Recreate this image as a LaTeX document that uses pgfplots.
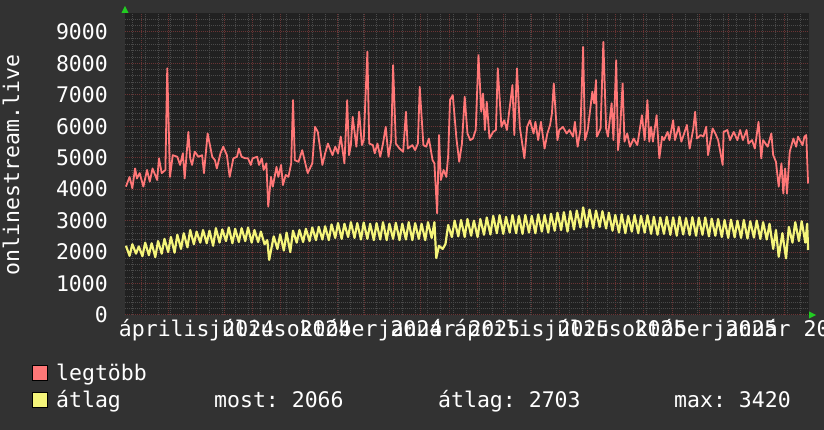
\documentclass[border=0pt]{standalone}
\usepackage{fontspec}
\setmainfont{DejaVu Sans Mono}
\usepackage{pgfplots}
\usepackage{pgfplotstable}
\pgfplotsset{compat=1.18}
\frenchspacing

\definecolor{outerbg}{HTML}{323232}
\definecolor{canvas}{HTML}{212121}
\definecolor{mgrid}{HTML}{6A3434}
\definecolor{sgrid}{HTML}{4A4A4A}
\definecolor{peak}{HTML}{FF7777}
\definecolor{avg}{HTML}{F5F57A}
\definecolor{arrowgreen}{HTML}{22CC22}

% day = days since 2024-01-01
\pgfplotstableread{
day legtobb
14 4080
18 4390
21 4030
24 4660
26 4340
29 4510
33 4080
37 4610
40 4240
43 4660
48 4290
50 4980
53 4510
57 4610
59 7840
62 4390
65 5080
70 5030
73 4770
76 5140
78 4340
82 5820
84 4980
86 4770
89 5190
93 5030
97 5080
99 4510
103 5770
108 5030
111 4920
113 4660
117 5140
120 5350
124 5080
127 4390
131 4980
135 5030
137 5290
140 5030
144 4980
147 4980
150 4770
152 4980
157 5030
159 4770
162 4980
164 4610
167 4820
169 3440
172 4390
174 4080
178 4710
180 4390
183 4770
185 4130
188 4450
191 4390
194 4820
196 6830
198 4920
202 4870
206 5240
209 4870
212 4510
217 4820
220 5980
223 5820
228 4770
231 5140
234 5450
239 5080
242 5350
245 5140
248 5670
252 4820
255 6830
257 5080
259 5400
261 6300
265 5350
268 6460
271 5400
273 5560
277 8370
279 5450
283 5400
285 5140
288 5450
291 5030
294 5450
297 5980
300 5030
303 5560
305 7940
308 5450
312 5290
316 5190
319 6460
321 5290
326 5400
329 5240
332 5450
334 7250
338 5400
341 5350
344 5610
348 4920
350 4820
353 3230
355 5720
357 4290
360 4610
363 4390
365 5080
367 6830
370 6990
374 5610
377 4870
380 5450
383 6940
386 5770
389 5560
392 5610
395 5880
398 8260
401 6460
403 7040
405 5880
407 6780
410 5610
414 5820
417 5880
419 7840
423 5980
426 6190
429 5880
435 7310
437 5720
440 7840
443 5980
448 4980
451 5980
454 6190
458 5770
460 6140
463 5560
466 6140
470 5290
473 5770
476 6040
478 6410
480 7360
484 5560
486 5880
490 5980
494 5770
497 5880
501 5670
503 6140
506 5350
509 5880
512 8520
514 5560
517 5880
522 7100
524 6730
526 7470
527 5670
531 5930
534 8680
537 5930
539 5670
543 6730
545 5560
548 8100
550 5240
552 5770
555 7360
557 5510
560 5770
563 5350
567 5610
571 5400
573 5770
576 6350
579 5560
582 6830
584 5510
586 5980
588 5510
592 6350
595 4980
598 5670
600 5560
604 5820
606 5560
610 6190
612 5560
616 5980
619 5510
622 5770
625 6040
628 5290
632 5930
634 6460
636 5610
640 5720
643 5670
646 5980
648 5080
653 5930
656 5770
659 5560
664 4770
665 5820
669 5880
672 5560
676 5820
680 5560
683 5880
686 5560
690 5880
692 5450
696 5560
699 5290
703 6140
706 4980
708 5560
713 5350
717 5770
719 5080
722 4870
725 4080
728 4820
730 3860
732 4660
734 3860
737 5190
741 5610
744 5350
746 5670
751 5400
753 5670
755 5720
757 4180
}\peaks

\pgfplotstableread{
day atlag
14 2200
18 1880
21 2250
25 1950
28 2180
32 1870
35 2300
39 1900
42 2280
46 1840
49 2350
53 1950
56 2420
60 2000
63 2480
67 1980
70 2550
74 2100
77 2600
81 2150
84 2700
88 2250
91 2650
95 2300
98 2700
102 2280
105 2680
109 2200
112 2760
116 2300
119 2720
123 2350
126 2780
130 2280
133 2740
137 2320
140 2760
144 2350
147 2780
151 2300
154 2700
158 2320
161 2650
165 2250
168 2380
170 1750
175 2500
179 2100
182 2560
186 2050
189 2620
193 2000
196 2680
200 2300
203 2700
207 2320
210 2740
214 2350
217 2780
221 2380
224 2800
228 2400
231 2820
235 2380
238 2880
242 2450
245 2920
249 2420
252 2900
256 2480
259 2950
263 2450
266 2920
270 2400
273 2940
277 2420
280 2900
284 2380
287 2920
291 2400
294 2950
298 2380
301 2900
305 2420
308 2930
312 2380
315 2900
319 2400
322 2950
326 2380
329 2920
333 2420
336 2900
340 2380
343 2950
347 2450
350 2950
352 1810
355 2200
359 2100
362 2250
365 2860
369 2480
372 3000
376 2500
379 3020
383 2480
386 3050
390 2520
393 3000
397 2480
400 3050
404 2550
407 3100
411 2560
414 3150
418 2600
421 3175
425 2580
428 3120
432 2620
435 3175
439 2600
442 3150
446 2580
449 3180
453 2620
456 3150
460 2600
463 3200
467 2650
470 3180
474 2620
477 3220
481 2680
484 3250
488 2700
491 3270
495 2650
498 3300
502 2720
505 3320
509 2780
512 3420
516 2800
519 3350
523 2760
526 3320
530 2800
533 3300
537 2750
540 3250
544 2680
547 3180
551 2620
554 3200
558 2600
561 3150
565 2650
568 3180
572 2600
575 3150
579 2620
582 3170
586 2580
589 3120
593 2550
596 3100
600 2580
603 3120
607 2550
610 3100
614 2520
617 3120
621 2560
624 3080
628 2540
631 3110
635 2520
638 3090
642 2550
645 3100
649 2500
652 3060
656 2520
659 3050
663 2480
666 3020
670 2450
673 3030
677 2470
680 3000
684 2450
687 3020
691 2430
694 2980
698 2460
701 3000
705 2420
708 2950
712 2400
715 2900
719 2100
722 2700
725 1850
729 2600
733 1800
736 2800
740 2300
743 2950
747 2350
750 2980
754 2300
756 2900
757 2066
}\means

\begin{document}
\begin{tikzpicture}[x=1pt,y=1pt]
\fill[outerbg] (0,0) rectangle (824,430);
\useasboundingbox (0,0) rectangle (824,430);
\begin{axis}[
  at={(125pt,115pt)}, anchor=south west,
  width=684pt, height=302pt, scale only axis,
  xmin=13, xmax=758, ymin=0, ymax=9600,
  axis background/.style={fill=canvas},
  axis line style={draw=none},
  major tick length=0pt, minor tick length=0pt,
  xtick={31,60,91,121,152,182,213,244,274,305,335,366,397,425,456,486,517,547,578,609,639,670,700,731},
  xticklabels={{},{},április 2024,{},{},július 2024,{},{},október 2024,{},{},január 2025,{},{},április 2025,{},{},július 2025,{},{},október 2025,{},{},január 2026},
  minor xtick={21,35,...,749},
  ytick={0,1000,...,9000},
  minor ytick={200,400,...,9400},
  grid=both,
  major grid style={draw=mgrid, line width=1pt, dash pattern=on 1pt off 1pt},
  minor grid style={draw=sgrid, line width=1pt, dash pattern=on 1pt off 1pt},
  ticklabel style={font=\fontsize{21.5}{24}\selectfont, text=white, inner sep=0pt},
  /pgf/number format/assume math mode=true,
  /pgf/number format/1000 sep={},
  scaled y ticks=false,
  xticklabel style={anchor=base, yshift=-22pt},
  yticklabel style={anchor=east, xshift=-17pt},
]
\addplot[peak, line width=1.8pt, line join=round] table[x=day, y=legtobb] {\peaks};
\addplot[avg, line width=2.2pt, line join=round] table[x=day, y=atlag] {\means};
\end{axis}
% axis arrows
\fill[arrowgreen] (121.5,417) -- (128.5,417) -- (125,424) -- cycle;
\fill[arrowgreen] (809,111.5) -- (809,118.5) -- (816,115) -- cycle;
% y label
\node[rotate=90, anchor=base, inner sep=0pt, text=white, font=\fontsize{21.5}{24}\selectfont] at (19,265) {onlinestream.live};
% legend
\begin{scope}[font=\fontsize{21.5}{24}\selectfont, text=white]
\filldraw[fill=peak, draw=black, line width=1pt] (32,49) rectangle (47,64);
\node[anchor=base west, inner sep=0pt] at (56,49) {legtöbb};
\filldraw[fill=avg, draw=black, line width=1pt] (32,22) rectangle (47,37);
\node[anchor=base west, inner sep=0pt] at (56,22) {átlag};
\node[anchor=base west, inner sep=0pt] at (214,22) {most: 2066};
\node[anchor=base west, inner sep=0pt] at (438,22) {átlag: 2703};
\node[anchor=base west, inner sep=0pt] at (674,22) {max: 3420};
\end{scope}
\end{tikzpicture}
\end{document}
